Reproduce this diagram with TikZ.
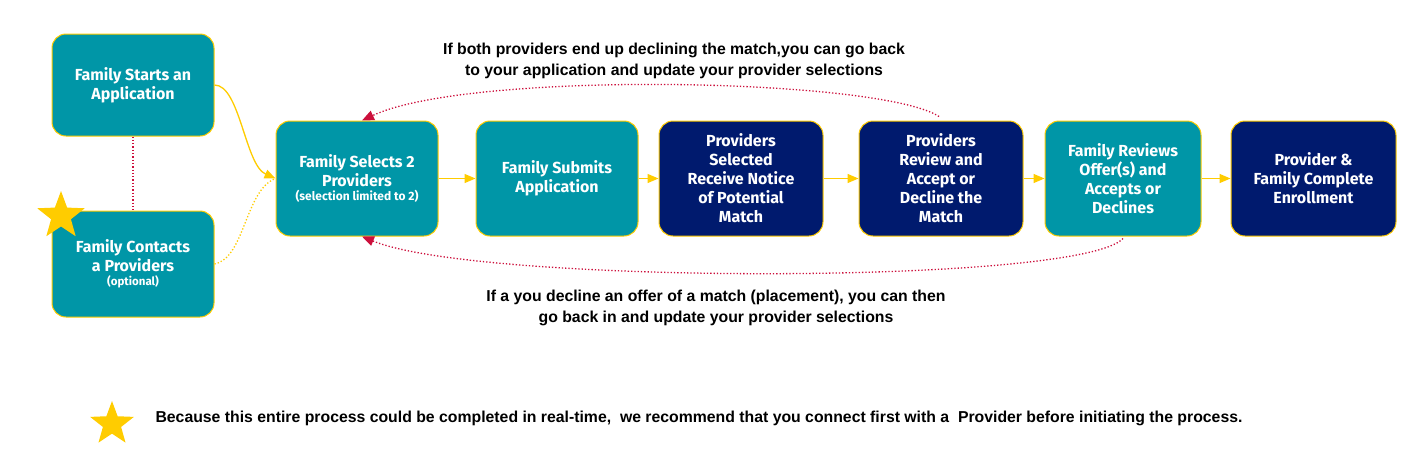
\documentclass[tikz,border=0pt]{standalone}
\usepackage{fontspec}
\setmainfont{Liberation Sans}
\newfontfamily\boxfont{Fira Sans}
\usepackage{tikz}
\usetikzlibrary{arrows.meta,shapes.geometric}

\definecolor{tealbox}{RGB}{0,150,167}
\definecolor{navybox}{RGB}{0,26,110}
\definecolor{goldline}{RGB}{255,204,0}
\definecolor{backred}{RGB}{204,16,60}

\tikzset{
  stepbox/.style={draw=goldline, line width=1pt, rounded corners=14pt,
    minimum width=162pt, minimum height=115pt, align=center, inner sep=2pt,
    text=white, font=\boxfont\bfseries\fontsize{16}{19}\selectfont},
  tealstep/.style={stepbox, fill=tealbox},
  navystep/.style={stepbox, fill=navybox},
  flow/.style={goldline, line width=1.3pt, -{Triangle[length=11pt,width=9pt]}},
  goback/.style={backred, line width=1.3pt, dotted, -{Triangle[length=12pt,width=10pt]}},
  note/.style={font=\bfseries\fontsize{15.8}{21}\selectfont, align=center},
  bigstar/.style={star, star points=5, star point ratio=2.4, fill=goldline,
    inner sep=0pt, minimum size=50pt}
}

\begin{document}
\begin{tikzpicture}[x=1pt,y=1pt]
    \useasboundingbox (0,0) rectangle (1414,-451);

    % left column
    \node[tealstep, minimum height=102pt] (start) at (133,-85) {Family Starts an\\Application};
    \node[tealstep, minimum height=106pt] (contact) at (133,-264)
        {Family Contacts\\a Providers\\[-5pt]{\fontsize{11.5}{13}\selectfont (optional)}};
    \node[bigstar] (star1) at (61,-216) {};

    % main row
    \node[tealstep] (select) at (357,-178.5)
        {Family Selects 2\\Providers\\[-5pt]{\fontsize{12}{14}\selectfont (selection limited to 2)}};
    \node[tealstep] (submit) at (557,-178.5) {Family Submits\\Application};
    \node[navystep, minimum width=164pt] (notice) at (741,-178.5)
        {Providers\\Selected\\Receive Notice\\of Potential\\Match};
    \node[navystep, minimum width=164pt] (review) at (941,-178.5)
        {Providers\\Review and\\Accept or\\Decline the\\Match};
    \node[tealstep, minimum width=156pt] (offer) at (1123,-178.5)
        {Family Reviews\\Offer(s) and\\Accepts or\\Declines};
    \node[navystep, minimum width=165pt] (enroll) at (1313.5,-178.5)
        {Provider \&\\Family Complete\\Enrollment};

    % yellow flow
    \draw[flow] (start.east) .. controls (240,-85) and (245,-165) .. (select.west);
    \draw[goldline, line width=1.3pt, dotted] (contact.east) .. controls (245,-258) and (245,-190) .. (select.west);
    \draw[flow] (select) -- (submit);
    \draw[flow] (submit) -- (notice);
    \draw[flow] (notice) -- (review);
    \draw[flow] (review) -- (offer);
    \draw[flow] (offer) -- (enroll);

    % red dotted
    \draw[backred, line width=1.3pt, dotted] (start) -- (contact);
    \draw[goback] ([xshift=-2pt,yshift=4pt]review.north) .. controls (880,-78) and (470,-70) .. ([xshift=5pt]select.north);
    \draw[goback] ([yshift=-2pt]offer.south) .. controls (1080,-285) and (480,-285) .. ([xshift=5pt]select.south);

    % notes
    \node[note] (topnote) at (674,-61) {If both providers end up declining the match,you can go back\\to your application and update your provider selections};
    \node[note] (botnote) at (716,-308) {If a you decline an offer of a match (placement), you can then\\go back in and update your provider selections};

    \node[bigstar, minimum size=46pt] (star2) at (112,-424) {};
    \node[anchor=west, font=\bfseries\fontsize{15.8}{18}\selectfont] (footnote) at (152,-418)
        {Because this entire process could be completed in real-time,\ \ we recommend that you connect first with a\ \ Provider before initiating the process.};
\end{tikzpicture}
\end{document}
